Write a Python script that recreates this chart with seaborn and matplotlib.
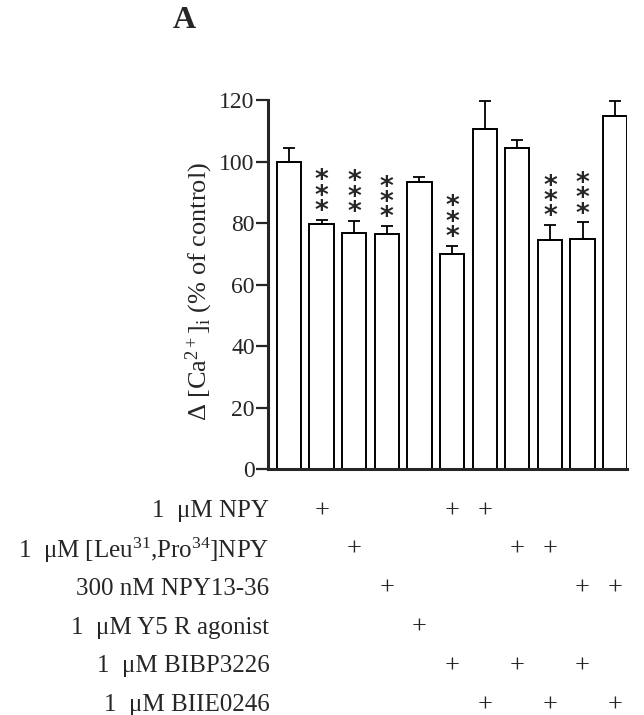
import numpy as np
import pandas as pd
import matplotlib
matplotlib.use("Agg")
import matplotlib.pyplot as plt
import seaborn as sns

# valores (% do controle)
grupos = [f"g{i}" for i in range(11)]
media = [100, 79.8, 76.8, 76.3, 93.3, 69.9, 110.6, 104.3, 74.6, 74.7, 114.8]
epm = [4.5, 1.3, 4.0, 2.8, 1.6, 2.8, 9.2, 2.7, 4.8, 5.6, 4.8]
signif = ["", "***", "***", "***", "", "***", "", "", "***", "***", ""]

tratamentos = [
    "1  μM NPY",
    r"1  μM [Leu$^{31}$,Pro$^{34}$]NPY",
    "300 nM NPY13-36",
    "1  μM Y5 R agonist",
    "1  μM BIBP3226",
    "1  μM BIIE0246",
]
presenca = [
    [1, 5, 6],
    [2, 7, 8],
    [3, 9, 10],
    [4],
    [5, 7, 9],
    [6, 8, 10],
]

sns.set_style("ticks")
plt.rcParams["font.family"] = ["Liberation Serif", "DejaVu Serif"]
plt.rcParams["mathtext.fontset"] = "custom"
plt.rcParams["mathtext.rm"] = "Liberation Serif"
plt.rcParams["mathtext.it"] = "Liberation Serif:italic"

df = pd.DataFrame({"grupo": grupos, "media": media, "epm": epm})

fig = plt.figure(figsize=(6.44, 7.15), dpi=100)
ax = fig.add_axes([0.416, 0.344, 0.558, 0.516])

sns.barplot(data=df, x="grupo", y="media", color="white", edgecolor="black",
            linewidth=1.4, width=0.745, errorbar=None, ax=ax)
ax.errorbar(np.arange(len(media)), media, yerr=[np.zeros(len(epm)), epm],
            fmt="none", ecolor="black", elinewidth=1.3, capsize=4.3, capthick=1.3)

# asteriscos empilhados
for i, s in enumerate(signif):
    if s:
        topo = media[i] + epm[i]
        ax.annotate("\n".join(s), (i, topo), xytext=(0, -4), textcoords="offset points",
                    ha="center", va="bottom", fontsize=19, linespacing=0.47,
                    family="DejaVu Sans", fontweight="bold")

ax.set_xlim(-0.645, 10.37)
ax.set_ylim(0, 120)
ax.set_yticks(range(0, 121, 20))
ax.set_xticks([])
ax.set_xlabel("")
ax.set_ylabel(r"Δ [Ca$^{2+}$]$_{\mathrm{i}}$ (% of control)", fontsize=19, labelpad=3)
ax.yaxis.label.set_y(0.482)
ax.tick_params(axis="y", labelsize=17, length=8.5, width=1.6, direction="out", pad=1)
sns.despine(ax=ax)
for sp in ["left", "bottom"]:
    ax.spines[sp].set_linewidth(2.2)

# tabela de tratamentos
trans = ax.get_xaxis_transform()
for r, (rot, idx) in enumerate(zip(tratamentos, presenca)):
    y = -0.114 - 0.1052 * r
    ax.text(-0.6, y, rot, transform=trans, ha="right", va="center", fontsize=18, clip_on=False)
    for j in idx:
        ax.text(j, y, "+", transform=trans, ha="center", va="center", fontsize=19, clip_on=False)

fig.text(0.286, 0.972, "A", fontsize=23, fontweight="bold", ha="center", va="center")

fig.savefig("out.png", dpi=100)
